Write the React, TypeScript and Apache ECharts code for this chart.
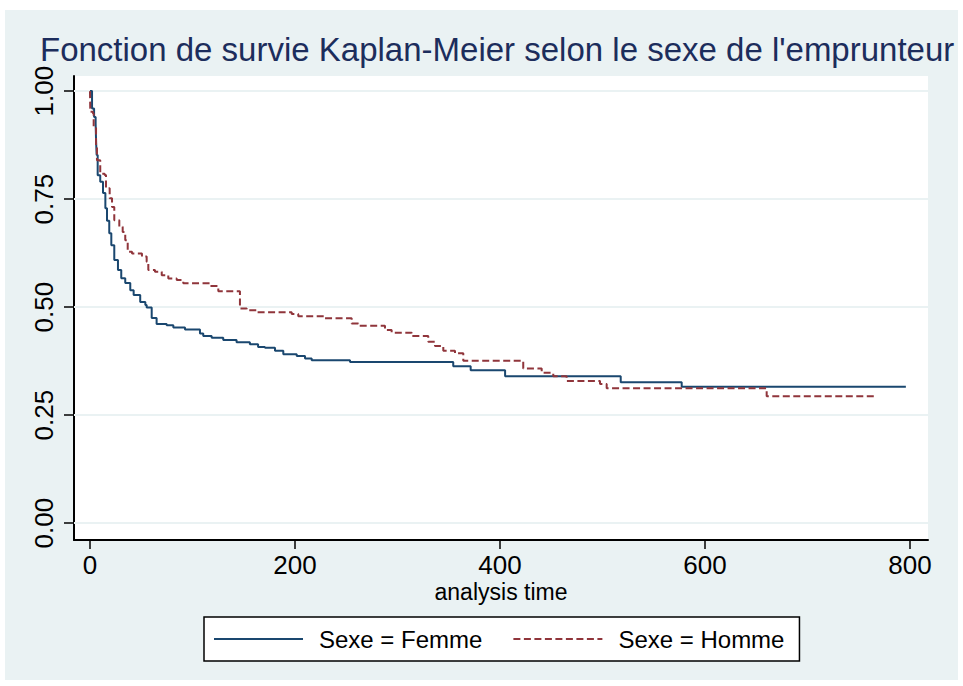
import React, { useEffect, useRef } from "react";
import * as echarts from "echarts";

const titleText = "Fonction de survie Kaplan-Meier selon le sexe de l'emprunteur";
const xAxisName = "analysis time";
const seriesNames = ["Sexe = Femme", "Sexe = Homme"];
const xTicks = [0, 200, 400, 600, 800];
const yTicks = [0, 0.25, 0.5, 0.75, 1];

// Femme: time at which survival drops, and survival after that time
const femmeT = [0, 2, 4, 5.5, 6, 6.5, 7.5, 10, 12.7, 15, 16.6, 18.8, 20.8, 23.7, 27.3, 30.5, 34.4, 39.3, 42.6, 49, 54, 55.3, 60.2, 65, 74.8, 81.3, 92.7, 107.3, 110.5, 118.7, 130, 143, 156, 164, 170.7, 180.5, 188.6, 201.7, 209.8, 216.3, 253.7, 354.4, 371.4, 405, 517.8, 577.3, 796];
const femmeS = [1.0, 0.96, 0.94, 0.925, 0.88, 0.852, 0.805, 0.79, 0.764, 0.729, 0.7, 0.671, 0.643, 0.609, 0.586, 0.567, 0.556, 0.539, 0.528, 0.512, 0.505, 0.499, 0.475, 0.461, 0.458, 0.453, 0.448, 0.439, 0.433, 0.429, 0.424, 0.419, 0.414, 0.408, 0.406, 0.399, 0.391, 0.387, 0.381, 0.377, 0.373, 0.363, 0.354, 0.34, 0.326, 0.316, 0.316];

// Homme
const hommeT = [0, 0.3, 2.9, 3.6, 5.9, 6.8, 10, 14.3, 15.6, 19.2, 21.5, 23.7, 28.6, 31.9, 34.4, 36.8, 41, 50.7, 55.3, 56.9, 63.4, 70, 76.4, 84.6, 91, 117, 125.2, 146.3, 152.9, 162.6, 196.8, 203.2, 229.3, 255.3, 261.8, 287.8, 294.3, 313.9, 330, 336.6, 344.7, 356.1, 364.2, 422.7, 440.7, 452, 465, 497.6, 504.1, 660.2, 765.9];
const hommeS = [1.0, 0.952, 0.948, 0.917, 0.871, 0.84, 0.809, 0.806, 0.775, 0.752, 0.732, 0.701, 0.686, 0.674, 0.655, 0.628, 0.624, 0.617, 0.605, 0.586, 0.582, 0.574, 0.566, 0.563, 0.555, 0.549, 0.537, 0.497, 0.493, 0.488, 0.484, 0.479, 0.474, 0.462, 0.457, 0.447, 0.441, 0.433, 0.42, 0.41, 0.399, 0.393, 0.376, 0.358, 0.348, 0.34, 0.329, 0.322, 0.312, 0.294, 0.294];

const FONT = "'Liberation Sans', Arial, sans-serif";
const BG = "#EAF2F3";

export default function App() {
  const ref = useRef<HTMLDivElement>(null);
  useEffect(() => {
    if (!ref.current) return;
    const chart = echarts.init(ref.current, undefined, { renderer: "svg" });
    const femme = femmeT.map((t, i) => [t, femmeS[i]]);
    const homme = hommeT.map((t, i) => [t, hommeS[i]]);
    chart.setOption({
      animation: false,
      backgroundColor: "#ffffff",
      graphic: [
        {
          type: "rect",
          z: -10,
          silent: true,
          shape: { x: 5, y: 10, width: 953, height: 670 },
          style: { fill: BG },
        },
      ],
      title: {
        text: titleText,
        left: 40,
        top: 33,
        padding: 0,
        textStyle: { fontSize: 33, fontWeight: "normal", color: "#1c2d5c", fontFamily: FONT },
      },
      grid: {
        left: 74,
        right: 35,
        top: 76,
        bottom: 146,
        show: true,
        backgroundColor: "#ffffff",
        borderWidth: 0,
      },
      legend: {
        left: 204,
        top: 617,
        orient: "horizontal",
        itemWidth: 89,
        itemHeight: 16,
        itemGap: 30,
        padding: [10, 15, 10, 9],
        borderColor: "#000",
        borderWidth: 1.5,
        backgroundColor: "#fff",
        data: seriesNames,
        itemStyle: { opacity: 0, borderWidth: 0 },
        textStyle: { fontSize: 24, color: "#000", fontFamily: FONT, padding: [0, 0, 0, 11] },
      },
      xAxis: {
        type: "value",
        min: -15.6,
        max: 817.6,
        name: xAxisName,
        nameLocation: "middle",
        nameGap: 40,
        nameMoveOverlap: false,
        nameTextStyle: { fontSize: 23, color: "#000", fontFamily: FONT },
        splitLine: { show: false },
        axisLine: { show: true, onZero: false, lineStyle: { color: "#000", width: 2 } },
        axisTick: { show: true, customValues: xTicks, length: 9, lineStyle: { color: "#000", width: 1.5 } },
        axisLabel: { customValues: xTicks, fontSize: 26, color: "#000", fontFamily: FONT, margin: 12 },
      },
      yAxis: {
        type: "value",
        min: -0.039,
        max: 1.035,
        splitLine: { show: false },
        axisLine: { show: true, onZero: false, lineStyle: { color: "#000", width: 2 } },
        axisTick: { show: true, customValues: yTicks, length: 10, lineStyle: { color: "#000", width: 1.5 } },
        axisLabel: {
          customValues: yTicks,
          rotate: 90,
          fontSize: 26,
          color: "#000",
          fontFamily: FONT,
          margin: 17,
          formatter: (v: number) => v.toFixed(2),
        },
      },
      series: [
        {
          name: seriesNames[0],
          type: "line",
          step: "end",
          data: femme,
          showSymbol: false,
          symbol: "none",
          z: 3,
          lineStyle: { color: "#1a476f", width: 2 },
          itemStyle: { color: "#1a476f" },
          markLine: {
            silent: true,
            z: 1,
            symbol: ["none", "none"],
            label: { show: false },
            lineStyle: { color: BG, width: 2, type: "solid" },
            data: yTicks.map((v) => ({ yAxis: v })),
          },
        },
        {
          name: seriesNames[1],
          type: "line",
          step: "end",
          data: homme,
          showSymbol: false,
          symbol: "none",
          z: 3,
          lineStyle: { color: "#90353b", width: 2, type: [7, 3.5] },
          itemStyle: { color: "#90353b" },
        },
      ],
    });
    return () => chart.dispose();
  }, []);
  return (
    <div
      ref={ref}
      style={{ position: "fixed", left: 0, top: 0, width: 963, height: 686 }}
    />
  );
}
